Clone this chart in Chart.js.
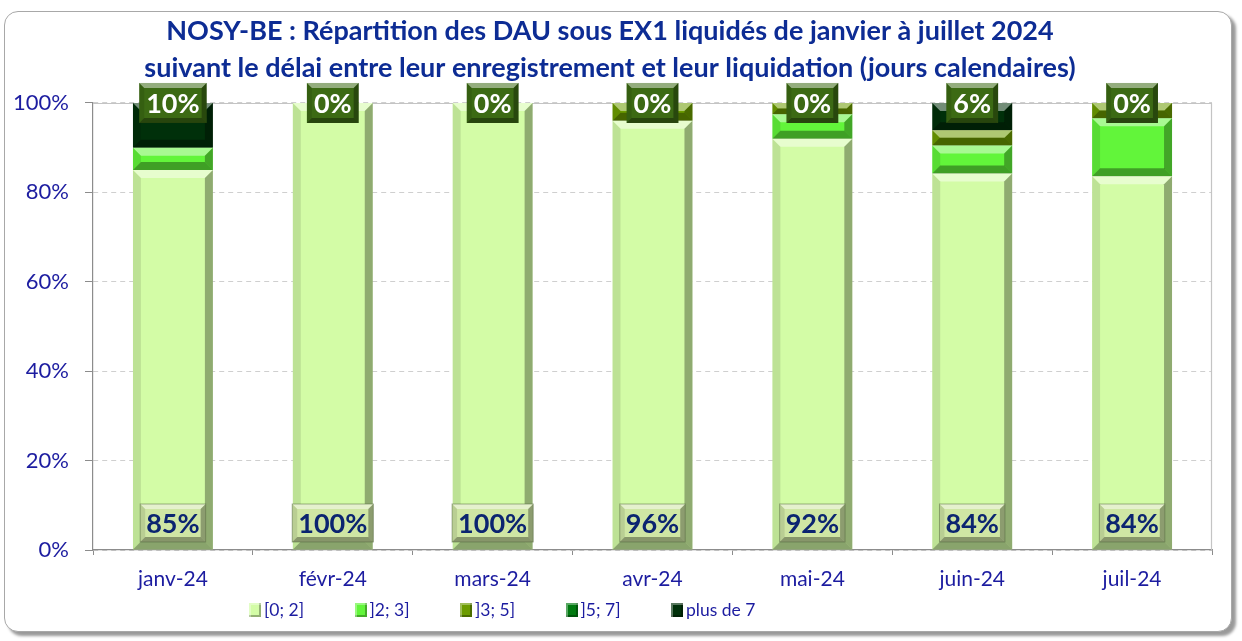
<!DOCTYPE html>
<html><head><meta charset="utf-8">
<script src="https://cdn.jsdelivr.net/npm/chart.js@4.4.1/dist/chart.umd.min.js"></script>
<style>
html,body{margin:0;padding:0;background:#fff;width:1242px;height:641px;overflow:hidden;}
#frame{position:absolute;left:4px;top:11px;width:1226px;height:619px;border:1.5px solid #a8a8a8;border-radius:14px;box-shadow:4px 4px 3px rgba(0,0,0,0.4);background:#fff;}
#wrap{position:absolute;left:0;top:0;width:1242px;height:641px;}
#legend{position:absolute;top:599px;left:0;height:22px;font-family:Lato,sans-serif;font-size:17.5px;color:#1c1ca0;}
.li{position:absolute;top:0;white-space:nowrap;display:flex;align-items:center;}
.sw{display:inline-block;width:12px;height:14px;margin-right:3px;box-shadow:inset 2px 2px 0 rgba(255,255,255,0.35), inset -2px -2px 0 rgba(0,0,0,0.3);}
</style></head>
<body>
<div id="frame"></div>
<div id="wrap"><canvas id="c" width="1242" height="641"></canvas></div>
<div id="legend"></div>
<script>
const categories = ['janv-24','févr-24','mars-24','avr-24','mai-24','juin-24','juil-24'];
const seriesNames = ['[0; 2]', ']2; 3]', ']3; 5]', ']5; 7]', 'plus de 7'];
const s0_2   = [85, 100, 100, 96, 92, 84.2, 83.6];
const s2_3   = [5, 0, 0, 0, 5.5, 6.3, 13.0];
const s3_5   = [0, 0, 0, 4, 2.5, 3.4, 3.4];
const s5_7   = [0, 0, 0, 0, 0, 0, 0];
const sPlus7 = [10, 0, 0, 0, 0, 6.1, 0];
const yTicks = [0, 20, 40, 60, 80, 100];
const colors = ['#d3fca6', '#62f53a', '#6c9c00', '#007a10', '#00300a'];

const seriesData = [s0_2, s2_3, s3_5, s5_7, sPlus7];
const datasets = seriesData.map((d, i) => ({
  label: seriesNames[i], data: d, backgroundColor: colors[i],
  borderWidth: 0, barPercentage: 0.5, categoryPercentage: 1.0, stack: 's'
}));

function shade(ctx, pts, col){ctx.beginPath();ctx.moveTo(pts[0][0],pts[0][1]);for(let k=1;k<pts.length;k++)ctx.lineTo(pts[k][0],pts[k][1]);ctx.closePath();ctx.fillStyle=col;ctx.fill();}
function bevelRect(ctx, l, t, r, b, bw){
  bw = Math.min(bw, (b-t)/2, (r-l)/2);
  if (bw <= 0) return;
  shade(ctx, [[l,t],[r,t],[r-bw,t+bw],[l+bw,t+bw]], 'rgba(255,255,255,0.45)');
  shade(ctx, [[l,t],[l+bw,t+bw],[l+bw,b-bw],[l,b]], 'rgba(0,0,0,0.10)');
  shade(ctx, [[r,t],[r,b],[r-bw,b-bw],[r-bw,t+bw]], 'rgba(0,0,0,0.32)');
  shade(ctx, [[l,b],[l+bw,b-bw],[r-bw,b-bw],[r,b]], 'rgba(0,0,0,0.35)');
}

const areaBorder = {
  id: 'areaBorder',
  beforeDatasetsDraw(chart){
    const {ctx, chartArea: a} = chart;
    ctx.save();
    ctx.strokeStyle = '#c4c4c4'; ctx.lineWidth = 1.2;
    ctx.beginPath();
    ctx.moveTo(a.left, a.top + 0.5); ctx.lineTo(a.right - 0.5, a.top + 0.5); ctx.lineTo(a.right - 0.5, a.bottom);
    ctx.stroke();
    ctx.restore();
  }
};

const bevelPlugin = {
  id: 'bevel',
  afterDatasetsDraw(chart){
    const ctx = chart.ctx;
    ctx.save();
    chart.data.datasets.forEach((ds, i) => {
      chart.getDatasetMeta(i).data.forEach(el => {
        const l = el.x - el.width/2, r = el.x + el.width/2;
        const t = Math.min(el.y, el.base), b = Math.max(el.y, el.base);
        if (b - t < 0.5) return;
        bevelRect(ctx, l, t, r, b, 8);
      });
    });
    const y = chart.scales.y;
    const metaBottom = chart.getDatasetMeta(0);
    const last = chart.data.datasets.length - 1;
    ctx.font = 'bold 27px Lato, sans-serif';
    ctx.textAlign = 'center'; ctx.textBaseline = 'middle';
    metaBottom.data.forEach((el, j) => {
      const txt = Math.round(s0_2[j]) + '%';
      const w = ctx.measureText(txt).width + 12, h = 38;
      const cx = el.x, cy = y.getPixelForValue(0) - 27;
      ctx.fillStyle = '#cfe6a4';
      ctx.fillRect(cx - w/2, cy - h/2, w, h);
      bevelRect(ctx, cx - w/2, cy - h/2, cx + w/2, cy + h/2, 5);
      ctx.strokeStyle = 'rgba(80,100,60,0.5)'; ctx.lineWidth = 1;
      ctx.strokeRect(cx - w/2, cy - h/2, w, h);
      ctx.fillStyle = '#0b2470';
      ctx.fillText(txt, cx, cy + 1);
    });
    const metaTop = chart.getDatasetMeta(last);
    metaTop.data.forEach((el, j) => {
      const txt = Math.round(sPlus7[j]) + '%';
      const w = ctx.measureText(txt).width + 14, h = 40;
      const cx = el.x, cy = y.getPixelForValue(100);
      ctx.fillStyle = '#3c6a14';
      ctx.fillRect(cx - w/2, cy - h/2, w, h);
      bevelRect(ctx, cx - w/2, cy - h/2, cx + w/2, cy + h/2, 5);
      ctx.fillStyle = '#ffffff';
      ctx.fillText(txt, cx, cy + 1);
    });
    ctx.restore();
  }
};

new Chart(document.getElementById('c'), {
  type: 'bar',
  data: { labels: categories, datasets },
  plugins: [areaBorder, bevelPlugin],
  options: {
    responsive: false, animation: false,
    layout: { padding: { left: 8, right: 30, top: 0, bottom: 50 } },
    plugins: {
      legend: { display: false },
      tooltip: { enabled: false },
      title: {
        display: true,
        text: ['NOSY-BE : Répartition des DAU sous EX1 liquidés de janvier à juillet 2024',
               'suivant le délai entre leur enregistrement et leur liquidation (jours calendaires)'],
        color: '#0d2c94',
        font: { family: 'Lato', size: 27, weight: 'bold', lineHeight: 1.37 },
        padding: { top: 13, bottom: 16 }
      }
    },
    scales: {
      x: {
        stacked: true,
        grid: { display: true, drawOnChartArea: false, drawTicks: true, tickLength: 5, offset: true, color: '#8c8c8c' },
        border: { color: '#8c8c8c', width: 1.2 },
        ticks: { color: '#1c1ca0', font: { family: 'Lato', size: 21 }, padding: 12 },
        afterFit(s){ s.height = 41; }
      },
      y: {
        stacked: true, min: 0, max: 100,
        afterBuildTicks(s){ s.ticks = yTicks.map(v => ({ value: v })); },
        grid: { color: '#cfcfcf', lineWidth: 1, tickLength: 8, tickColor: '#8c8c8c', tickBorderDash: [] },
        border: { color: '#8c8c8c', width: 1.2, dash: [5, 4] },
        ticks: { color: '#1c1ca0', font: { family: 'Lato', size: 22 }, padding: 16, callback: v => v + '%' },
        afterFit(s){ s.width = 85; }
      }
    }
  }
});

const lg = document.getElementById('legend');
seriesNames.forEach((n, i) => {
  const d = document.createElement('div');
  d.className = 'li';
  d.style.left = (249 + i * 105.5) + 'px';
  d.innerHTML = '<span class="sw" style="background:' + colors[i] + '"></span>' + n;
  lg.appendChild(d);
});
</script>
</body></html>
